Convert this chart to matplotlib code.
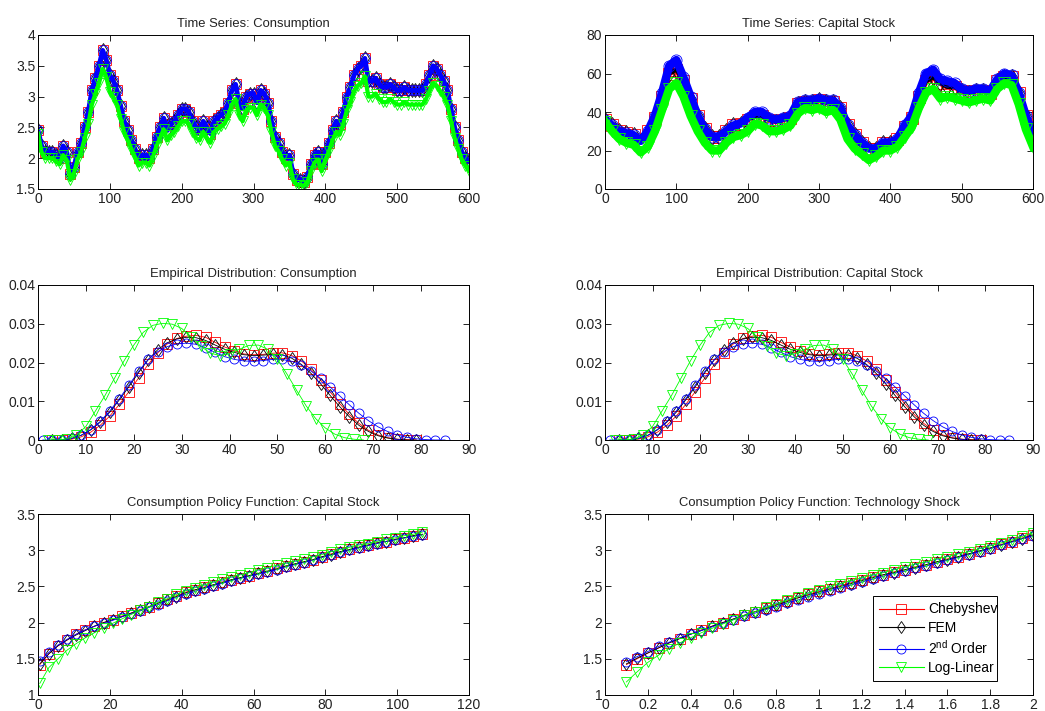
import numpy as np
import matplotlib
matplotlib.use('Agg')
import matplotlib.pyplot as plt
from matplotlib.ticker import FuncFormatter

plt.rcParams['font.family'] = ['Liberation Sans', 'DejaVu Sans']
plt.rcParams['mathtext.default'] = 'regular'

# simulated paths, every 5th period for consumption, every 10th for capital
t_cons = np.arange(0, 601, 5)
cons_cheb = [2.45, 2.20, 2.10, 2.10, 2.10, 2.05, 2.00, 2.20, 2.10, 1.75,
             1.85, 2.10, 2.25, 2.50, 2.75, 3.10, 3.30, 3.50, 3.75, 3.60,
             3.35, 3.25, 3.10, 2.85, 2.60, 2.45, 2.30, 2.15, 2.00, 2.05,
             2.05, 2.00, 2.15, 2.35, 2.50, 2.65, 2.45, 2.55, 2.60, 2.70,
             2.80, 2.80, 2.75, 2.60, 2.50, 2.45, 2.60, 2.50, 2.40, 2.60,
             2.65, 2.70, 2.75, 2.90, 3.10, 3.20, 2.90, 2.80, 3.00, 3.05,
             3.05, 2.90, 3.10, 3.05, 2.90, 2.60, 2.35, 2.25, 2.10, 2.00,
             2.05, 1.75, 1.65, 1.65, 1.62, 1.70, 1.90, 2.05, 2.10, 1.90,
             2.10, 2.25, 2.45, 2.60, 2.55, 2.75, 3.00, 3.15, 3.35, 3.45,
             3.50, 3.62, 3.25, 3.25, 3.30, 3.20, 3.15, 3.15, 3.20, 3.15,
             3.10, 3.10, 3.15, 3.10, 3.10, 3.10, 3.10, 3.10, 3.20, 3.35,
             3.50, 3.45, 3.35, 3.25, 3.10, 2.80, 2.50, 2.30, 2.10, 2.00, 1.95]
cons_loglin = [2.40, 2.10, 2.00, 2.00, 2.00, 1.95, 1.90, 2.05, 1.97, 1.65,
               1.75, 1.98, 2.10, 2.32, 2.55, 2.87, 3.05, 3.22, 3.45, 3.32,
               3.08, 2.99, 2.87, 2.64, 2.42, 2.29, 2.15, 2.02, 1.88, 1.93,
               1.93, 1.88, 2.02, 2.20, 2.33, 2.47, 2.29, 2.38, 2.43, 2.52,
               2.60, 2.60, 2.56, 2.43, 2.33, 2.29, 2.43, 2.33, 2.25, 2.43,
               2.47, 2.52, 2.56, 2.70, 2.87, 2.96, 2.70, 2.60, 2.78, 2.82,
               2.82, 2.70, 2.87, 2.82, 2.70, 2.42, 2.20, 2.11, 1.98, 1.88,
               1.93, 1.66, 1.57, 1.57, 1.55, 1.61, 1.79, 1.93, 1.98, 1.79,
               1.98, 2.11, 2.29, 2.42, 2.38, 2.56, 2.78, 2.91, 3.09, 3.18,
               3.22, 3.33, 3.00, 3.00, 3.05, 2.96, 2.91, 2.91, 2.96, 2.91,
               2.87, 2.87, 2.91, 2.87, 2.87, 2.87, 2.87, 2.87, 2.96, 3.09,
               3.22, 3.18, 3.09, 3.00, 2.87, 2.60, 2.33, 2.15, 1.98, 1.88, 1.80]

t_cap = np.arange(0, 601, 10)
cap_cheb = [36, 33, 30, 29, 28, 25, 30, 37, 48, 60,
            62, 56, 47, 38, 31, 27, 27, 30, 33, 34,
            36, 38, 38, 36, 35, 36, 37, 44, 45, 45,
            46, 45, 45, 42, 33, 28, 24, 21, 21, 24,
            24, 26, 32, 37, 48, 56, 58, 55, 53, 53,
            51, 50, 51, 51, 50, 56, 58, 58, 50, 38, 29]
cap_pert2 = [36, 33, 30, 29, 28, 25, 30, 38, 50, 64,
             67, 58, 48, 38, 31, 27, 27, 30, 33, 34,
             37, 40, 40, 37, 36, 37, 38, 45, 46, 46,
             47, 46, 46, 42, 33, 28, 24, 21, 21, 24,
             24, 26, 33, 38, 50, 60, 62, 57, 56, 55,
             52, 51, 52, 52, 51, 57, 60, 59, 50, 38, 29]
cap_loglin = [35, 30, 26, 24, 23, 19, 22, 30, 41, 52,
              55, 48, 38, 30, 24, 20, 20, 24, 27, 28,
              30, 34, 33, 30, 30, 31, 33, 39, 42, 41,
              42, 40, 41, 36, 26, 21, 18, 15, 17, 20,
              20, 22, 27, 32, 42, 50, 52, 47, 48, 47,
              46, 45, 46, 47, 46, 52, 55, 54, 44, 31, 22]

# empirical densities
x_cheb = np.arange(3, 80, 2)
dens_cheb = [0, 0, 0.0002, 0.0008, 0.0020, 0.0038, 0.0062, 0.0092, 0.0125, 0.0160,
             0.0195, 0.0225, 0.0248, 0.0262, 0.0268, 0.0270, 0.0265, 0.0252, 0.0240, 0.0230,
             0.0222, 0.0220, 0.0221, 0.0224, 0.0225, 0.0218, 0.0204, 0.0182, 0.0155, 0.0124,
             0.0094, 0.0066, 0.0043, 0.0025, 0.0013, 0.0006, 0.0002, 0.0001, 0]
dens_fem = [0, 0.0001, 0.0004, 0.0012, 0.0026, 0.0046, 0.0072, 0.0104, 0.0138, 0.0174,
            0.0207, 0.0233, 0.0251, 0.0261, 0.0265, 0.0264, 0.0257, 0.0245, 0.0234, 0.0226,
            0.0220, 0.0218, 0.0219, 0.0221, 0.0220, 0.0211, 0.0195, 0.0172, 0.0145, 0.0115,
            0.0086, 0.0060, 0.0038, 0.0022, 0.0011, 0.0005, 0.0002, 0, 0]
x_pert2 = np.arange(1, 86, 2)
dens_pert2 = [0, 0, 0.0001, 0.0004, 0.0012, 0.0027, 0.0048, 0.0075, 0.0107, 0.0142,
              0.0177, 0.0208, 0.0228, 0.0241, 0.0248, 0.0250, 0.0247, 0.0238, 0.0226, 0.0215,
              0.0208, 0.0204, 0.0203, 0.0205, 0.0208, 0.0208, 0.0203, 0.0193, 0.0178, 0.0159,
              0.0137, 0.0114, 0.0091, 0.0069, 0.0050, 0.0034, 0.0022, 0.0013, 0.0007, 0.0003,
              0.0001, 0, 0]
x_loglin = np.arange(2, 69, 2)
dens_loglin = [0, 0, 0.0003, 0.0012, 0.0035, 0.0075, 0.0115, 0.0160, 0.0205, 0.0245,
               0.0278, 0.0296, 0.0301, 0.0299, 0.0288, 0.0266, 0.0242, 0.0224, 0.0218, 0.0223,
               0.0234, 0.0244, 0.0245, 0.0234, 0.0208, 0.0170, 0.0128, 0.0088, 0.0055, 0.0031,
               0.0015, 0.0006, 0.0002, 0]

# policy functions
k_grid = np.linspace(0.5, 107, 43)
pol_k_cheb = [1.42, 1.57, 1.68, 1.76, 1.84, 1.90, 1.95, 2.00, 2.04, 2.09,
              2.13, 2.18, 2.22, 2.27, 2.32, 2.37, 2.42, 2.45, 2.49, 2.52,
              2.56, 2.59, 2.62, 2.65, 2.68, 2.71, 2.75, 2.78, 2.81, 2.84,
              2.87, 2.91, 2.95, 2.98, 3.01, 3.04, 3.07, 3.10, 3.12, 3.15,
              3.17, 3.20, 3.22]
pol_k_fem = [1.43, 1.57, 1.68, 1.76, 1.83, 1.89, 1.95, 2.00, 2.04, 2.08,
             2.13, 2.17, 2.22, 2.27, 2.31, 2.36, 2.41, 2.45, 2.48, 2.52,
             2.55, 2.59, 2.62, 2.65, 2.68, 2.71, 2.74, 2.78, 2.81, 2.84,
             2.87, 2.91, 2.94, 2.98, 3.01, 3.04, 3.07, 3.10, 3.12, 3.15,
             3.17, 3.20, 3.22]
pol_k_pert2 = [1.47, 1.59, 1.69, 1.77, 1.84, 1.90, 1.95, 1.99, 2.03, 2.08,
               2.12, 2.16, 2.21, 2.25, 2.30, 2.35, 2.39, 2.43, 2.47, 2.51,
               2.54, 2.58, 2.61, 2.64, 2.67, 2.70, 2.73, 2.77, 2.80, 2.83,
               2.86, 2.90, 2.93, 2.97, 3.00, 3.03, 3.06, 3.09, 3.12, 3.14,
               3.17, 3.19, 3.21]
pol_k_loglin = [1.16, 1.38, 1.50, 1.62, 1.71, 1.79, 1.86, 1.93, 1.99, 2.05,
                2.11, 2.17, 2.22, 2.28, 2.33, 2.39, 2.44, 2.48, 2.52, 2.56,
                2.60, 2.63, 2.66, 2.69, 2.73, 2.76, 2.79, 2.82, 2.85, 2.88,
                2.91, 2.94, 2.98, 3.01, 3.04, 3.07, 3.09, 3.12, 3.15, 3.17,
                3.20, 3.22, 3.25]

z_grid = np.linspace(0.1, 2.0, 39)
pol_z_cheb = [1.42, 1.50, 1.58, 1.65, 1.72, 1.78, 1.84, 1.90, 1.95, 2.00,
              2.05, 2.10, 2.15, 2.20, 2.25, 2.30, 2.34, 2.39, 2.43, 2.47,
              2.51, 2.55, 2.59, 2.63, 2.66, 2.70, 2.73, 2.77, 2.80, 2.84,
              2.88, 2.91, 2.95, 2.99, 3.03, 3.08, 3.12, 3.17, 3.21]
pol_z_fem = [1.43, 1.51, 1.58, 1.65, 1.72, 1.78, 1.84, 1.89, 1.95, 2.00,
             2.05, 2.10, 2.15, 2.19, 2.24, 2.29, 2.34, 2.38, 2.42, 2.46,
             2.50, 2.54, 2.58, 2.62, 2.66, 2.69, 2.73, 2.76, 2.80, 2.84,
             2.87, 2.91, 2.95, 2.99, 3.03, 3.07, 3.12, 3.16, 3.21]
pol_z_pert2 = [1.46, 1.53, 1.60, 1.67, 1.73, 1.79, 1.84, 1.89, 1.94, 1.99,
               2.04, 2.09, 2.13, 2.18, 2.22, 2.27, 2.31, 2.36, 2.40, 2.44,
               2.48, 2.52, 2.56, 2.60, 2.64, 2.68, 2.71, 2.75, 2.78, 2.82,
               2.86, 2.90, 2.94, 2.98, 3.02, 3.07, 3.11, 3.16, 3.20]
pol_z_loglin = [1.18, 1.32, 1.45, 1.55, 1.64, 1.72, 1.79, 1.86, 1.92, 1.98,
                2.04, 2.10, 2.15, 2.21, 2.26, 2.31, 2.36, 2.41, 2.45, 2.50,
                2.54, 2.58, 2.62, 2.66, 2.69, 2.73, 2.77, 2.81, 2.84, 2.88,
                2.91, 2.95, 2.98, 3.02, 3.06, 3.10, 3.14, 3.19, 3.24]

methods = ['Chebyshev', 'FEM', '2$^{nd}$ Order', 'Log-Linear']
colors = ['#ff0000', '#000000', '#0000ff', '#00ff00']
markers = ['s', 'd', 'o', 'v']


def fmt(v, pos):
    return ('%g' % v)


def style(ax, title, xlim, xticks, ylim, yticks):
    ax.set_title(title, fontsize=9.4, color='#222222', pad=6)
    ax.set_xlim(xlim)
    ax.set_ylim(ylim)
    ax.set_xticks(xticks)
    ax.set_yticks(yticks)
    ax.xaxis.set_major_formatter(FuncFormatter(fmt))
    ax.yaxis.set_major_formatter(FuncFormatter(fmt))
    ax.tick_params(direction='in', top=True, right=True, length=4, width=0.6,
                   labelsize=10, labelcolor='#222222', pad=2)
    for s in ax.spines.values():
        s.set_linewidth(0.7)


def draw(ax, xs, ys, ms=6, lws=(0.6, 0.6, 0.6, 0.6)):
    for x, y, c, m, lab, lw in zip(xs, ys, colors, markers, methods, lws):
        ax.plot(x, y, '-', color=c, marker=m, mfc='none', mec=c, ms=ms,
                mew=0.6, lw=lw, label=lab)


fig = plt.figure(figsize=(10.45, 7.11), dpi=100)
W, H = 1045., 711.
def place(l, t, r, b):
    return fig.add_axes([l / W, 1 - b / H, (r - l) / W, (b - t) / H])

ax1 = place(38, 35, 469, 189)
ax2 = place(605, 35, 1033, 189)
ax3 = place(38, 285, 469, 440)
ax4 = place(605, 285, 1033, 440)
ax5 = place(38, 514, 469, 695)
ax6 = place(605, 514, 1033, 695)

# the simulated paths overlap heavily, so the lines are drawn wide
draw(ax1, [t_cons] * 4, [cons_cheb, cons_cheb, cons_cheb, cons_loglin], ms=7,
     lws=(2, 2, 3.5, 3))
style(ax1, 'Time Series: Consumption', (0, 600), np.arange(0, 601, 100),
      (1.5, 4), np.arange(1.5, 4.01, 0.5))

draw(ax2, [t_cap] * 4, [cap_cheb, cap_cheb, cap_pert2, cap_loglin], ms=8,
     lws=(4, 3, 6, 6))
style(ax2, 'Time Series: Capital Stock', (0, 600), np.arange(0, 601, 100),
      (0, 80), np.arange(0, 81, 20))

dx = [x_cheb, x_cheb, x_pert2, x_loglin]
dy = [dens_cheb, dens_fem, dens_pert2, dens_loglin]
draw(ax3, dx, dy, ms=6.5)
style(ax3, 'Empirical Distribution: Consumption', (0, 90), np.arange(0, 91, 10),
      (0, 0.04), np.arange(0, 0.041, 0.01))
draw(ax4, dx, dy, ms=6.5)
style(ax4, 'Empirical Distribution: Capital Stock', (0, 90), np.arange(0, 91, 10),
      (0, 0.04), np.arange(0, 0.041, 0.01))

draw(ax5, [k_grid] * 4, [pol_k_cheb, pol_k_fem, pol_k_pert2, pol_k_loglin], ms=6.5)
style(ax5, 'Consumption Policy Function: Capital Stock', (0, 120), np.arange(0, 121, 20),
      (1, 3.5), np.arange(1, 3.51, 0.5))

draw(ax6, [z_grid] * 4, [pol_z_cheb, pol_z_fem, pol_z_pert2, pol_z_loglin], ms=6.5)
style(ax6, 'Consumption Policy Function: Technology Shock', (0, 2), np.arange(0, 2.01, 0.2),
      (1, 3.5), np.arange(1, 3.51, 0.5))
leg = ax6.legend(loc='lower left', bbox_to_anchor=(0.626, 0.077, 0.29, 0.464),
                 mode='expand', borderaxespad=0, fontsize=10, handlelength=3.2,
                 handletextpad=0.3, borderpad=0.45, labelspacing=0.3, fancybox=False,
                 framealpha=1, edgecolor='black')
leg.get_frame().set_linewidth(0.7)
for h in leg.get_lines():
    h.set_linewidth(0.8)

fig.savefig('out.png', dpi=100)
